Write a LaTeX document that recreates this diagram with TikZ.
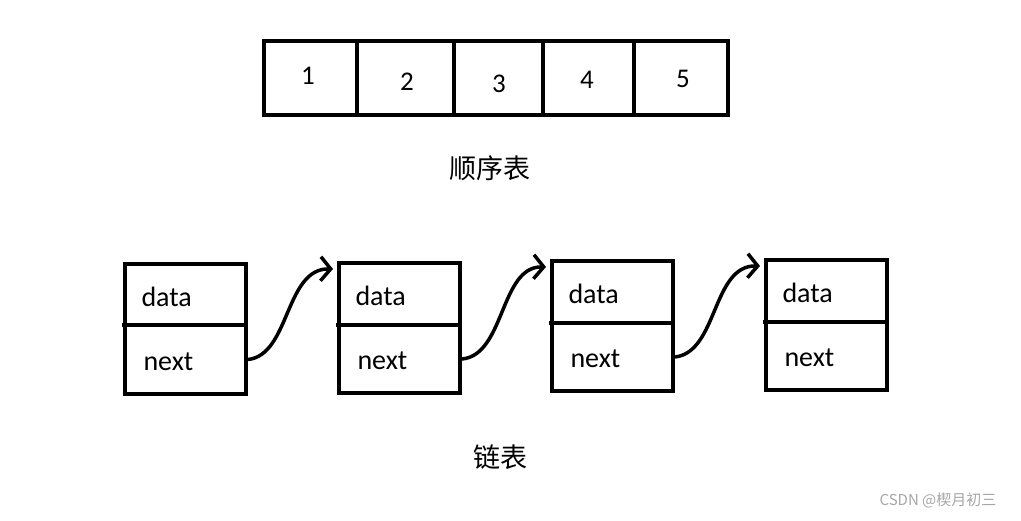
\documentclass[tikz,border=0pt]{standalone}
\usepackage{fontspec}
\setmainfont{Carlito}
\newfontfamily\cjk{Noto Sans CJK SC}
\usetikzlibrary{arrows.meta}
\begin{document}
\begin{tikzpicture}[x=1pt,y=-1pt,
  box/.style={draw,line width=4pt},
  num/.style={font=\fontsize{27}{30}\selectfont},
  lbl/.style={font=\fontsize{28}{32}\selectfont},
  cjkcap/.style={font=\cjk\fontsize{27}{30}\selectfont},
  link/.style={line width=3.5pt,-{Straight Barb[length=10pt,width=24pt,line width=3.5pt]}}]
\useasboundingbox (0,0) rectangle (1021,520);
\draw[box] (264,41) rectangle (728,115);
\foreach \x in {357,454,543,634}{\draw[box] (\x,41)--(\x,115);}
\node[num] (n1) at (308,76) {1};
\node[num] (n2) at (407,82) {2};
\node[num] (n3) at (499,84) {3};
\node[num] (n4) at (587,80) {4};
\node[num] (n5) at (683,79) {5};
\node[cjkcap] (t1) at (490,168) {顺序表};
\foreach \i/\xa/\ya/\m in {1/125/264/325,2/339/263/325,3/552/261/323,4/766/260/322}{
  \draw[box] (\xa,\ya) rectangle ++(121,130);
  \draw[box] (\xa-3,\m) -- ++(124,0);
  \node[lbl,anchor=west] (d\i) at (\xa+13,{(\ya+\m)/2+2}) {data};
  \node[lbl,anchor=west] (x\i) at (\xa+15,{(\m+\ya+130)/2+2}) {next};
  \coordinate (o\i) at (\xa+123,{(\m+\ya+130)/2});
  \coordinate (h\i) at (\xa-6,\ya+6);
}
\draw[link] (o1) .. controls (290,355) and (285,268) .. (h2);
\draw[link] (o2) .. controls (505,355) and (500,266) .. (h3);
\draw[link] (o3) .. controls (718,352) and (712,265) .. (h4);
\node[cjkcap] (t2) at (500,457) {链表};
\node[font=\cjk\fontsize{15}{17}\selectfont,text=gray!70] (w) at (938,500) {CSDN @楔月初三};
\end{tikzpicture}
\end{document}
